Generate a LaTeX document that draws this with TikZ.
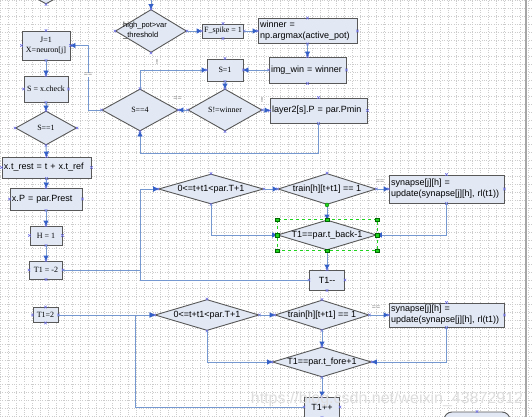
\documentclass[tikz,border=0pt]{standalone}
\usepackage{fontspec}
\setmainfont{Liberation Serif}
\setsansfont{Liberation Sans}
\usepackage{tikz}
\usetikzlibrary{positioning, arrows.meta, shapes.geometric}
\usepackage{xcolor}

\definecolor{boxfill}{RGB}{226,233,245}
\definecolor{boxline}{RGB}{88,88,88}
\definecolor{conn}{RGB}{118,152,208}
\definecolor{tipblue}{RGB}{52,96,200}
\definecolor{pinblue}{RGB}{110,110,230}
\definecolor{selgreen}{RGB}{30,210,30}

\newcommand{\sansnine}{\sffamily\fontsize{9}{11}\selectfont}
\newcommand{\serifeight}{\rmfamily\fontsize{8}{10}\selectfont}

\begin{document}
\begin{tikzpicture}[x=1pt, y=-1pt,
      box/.style={draw=boxline, fill=boxfill, line width=0.9pt, inner sep=2pt,
          font=\sansnine, align=left},
      sbox/.style={box, font=\serifeight, align=center},
      dia/.style={diamond, draw=boxline, fill=boxfill, line width=0.9pt,
          inner sep=0pt},
      dtext/.style={font=\sansnine, align=center, inner sep=0pt},
      dsans/.style={label={[dtext]center:{#1}}},
      dserif/.style={label={[dtext, font=\serifeight]center:{#1}}},
      arr/.style={draw=conn, line width=0.9pt,
          -{Triangle[length=5pt, width=5pt, color=tipblue]}},
      lbl/.style={font=\sffamily\fontsize{7}{7}\selectfont, text=black!75,
          inner sep=0.5pt},
      pin/.style={draw=pinblue, line width=0.5pt},
      gridline/.style={draw=gray!40, dotted, line width=0.35pt, step=8pt},
      sel/.style={draw=selgreen, dashed, line width=0.6pt},
      handle/.style={fill=selgreen, draw=green!40!black, line width=0.3pt},
      wm/.style={font=\sffamily\fontsize{16}{16}\selectfont, text=black!13},
    ]

    \useasboundingbox (0,0) rectangle (532,417);
    \clip (0,0) rectangle (532,417);
    \fill[white] (0,0) rectangle (532,417);
    \draw[gridline] (0,0) grid (532,417);

    %% --- top row ---
    \node[dia, minimum width=61pt, minimum height=34pt] (prev) at (46,-13) {};
    \node[dia, minimum width=71pt, minimum height=43pt,
      label={[dtext, font=\sffamily\fontsize{7.5}{10}\selectfont, align=left,
          xshift=-6pt]center:{high\_pot>var\\\_threshold}}] (hipot) at (151,31) {};
    \node[sbox, minimum width=40pt, minimum height=14pt] (fspike) at (223,31) {F\_spike = 1};
    \node[box, text width=95pt, minimum height=25pt] (winner) at (307.5,31)
    {winner =\\np.argmax(active\_pot)};
    \node[box, text width=73pt, minimum height=26pt] (imgwin) at (307.5,70) {img\_win = winner};
    \node[sbox, minimum width=36pt, minimum height=22pt] (s1) at (225,70) {S=1};
    \node[dia, minimum width=74pt, minimum height=42pt, dserif={S!=winner}] (swin) at (225,110) {};
    \node[box, text width=93pt, minimum height=25pt] (layer) at (318.5,110.5) {layer2[s].P = par.Pmin};
    \node[dia, minimum width=76pt, minimum height=42pt, dserif={S==4}] (s4) at (140,110) {};

    %% --- left column ---
    \node[sbox, minimum width=48pt, minimum height=29pt] (j1) at (46,45.5) {J=1\\X=neuron[j]};
    \node[sbox, minimum width=44pt, minimum height=26pt] (sx) at (46,89) {S = x.check};
    \node[dia, minimum width=61pt, minimum height=34pt, dserif={S==1}] (schk) at (46,128) {};
    \node[box, text width=85pt, minimum height=21pt] (trest) at (46.5,167.5) {x.t\_rest = t + x.t\_ref};
    \node[box, text width=68pt, minimum height=22pt] (xp) at (46,199) {x.P = par.Prest};
    \node[sbox, minimum width=32pt, minimum height=19pt] (h1) at (46,235.5) {H = 1};
    \node[sbox, minimum width=33pt, minimum height=18pt] (t1a) at (46,270) {T1 = -2};
    \node[sbox, minimum width=25pt, minimum height=15pt] (t1b) at (45.5,315) {T1=2};

    %% --- back window ---
    \node[dia, minimum width=105pt, minimum height=30pt, dsans={0<=t+t1<par.T+1}] (dA) at (211,189) {};
    \node[dia, minimum width=98pt, minimum height=31pt, dsans={train[h][t+t1] == 1}] (dB) at (327,189) {};
    \node[box, text width=111pt, minimum height=28pt] (syn1) at (446.5,189)
    {synapse[j][h] =\\update(synapse[j][h], rl(t1))};
    \node[dia, minimum width=99pt, minimum height=30pt, dsans={T1==par.t\_back-1}] (dC) at (327,235) {};
    \node[box, align=center, minimum width=35pt, minimum height=20pt] (tdec) at (327,280) {T1{-}{-}};

    %% --- fore window ---
    \node[dia, minimum width=104pt, minimum height=31pt, dsans={0<=t+t1<par.T+1}] (dD) at (207,315) {};
    \node[dia, minimum width=94pt, minimum height=30pt, dsans={train[h][t+t1] == 1}] (dE) at (322,315) {};
    \node[box, text width=111pt, minimum height=24pt] (syn2) at (446.5,315)
    {synapse[j][h] =\\update(synapse[j][h], rl(t1))};
    \node[dia, minimum width=99pt, minimum height=30pt, dsans={T1==par.t\_fore+1}] (dF) at (322,362) {};
    \node[box, align=center, minimum width=35pt, minimum height=20pt] (tinc) at (322,407) {T1++};
    \node[box, rounded corners=8pt, minimum width=66pt, minimum height=30pt] (rbox) at (477,427) {};

    %% connection points
    \foreach \n in {prev, hipot, fspike, winner, imgwin, s1, swin, layer, s4, j1, sx, schk,
        trest, xp, h1, t1a, t1b, dA, dB, syn1, dC, tdec, dD, dE, syn2, dF, tinc, rbox}
    \foreach \a in {north, south, east, west}
    \draw[pin] (\n.\a) +(-1.3,-1.3) -- +(1.3,1.3) +(-1.3,1.3) -- +(1.3,-1.3);

    \coordinate (hpin)  at (151,-2);
    \coordinate (jback) at (88,45.5);
    \coordinate (lback) at (140,153);
    \coordinate (aloop) at (140,189);
    \coordinate (dloop) at (135,315);

    %% --- connectors, top ---
    \draw[arr] (hpin) -- (hipot.north);
    \draw[arr] (hipot.east) -- (fspike.west);
    \draw[arr] (fspike.east) -- (winner.west);
    \draw[arr] (winner.south) -- (imgwin.north);
    \draw[arr] (imgwin.west) -- (s1.east);
    \draw[arr] (s1.south) -- (swin.north);
    \draw[arr] (swin.east) -- (layer.west);
    \draw[arr] (swin.west) -- (s4.east);
    \draw[arr] (s4.north) |- (s1.west);
    \draw[arr] (s4.west) -| (jback) -- (j1.east);
    \draw[arr] (layer.south) |- (lback) -- (s4.south);

    \node[lbl] (ne1) at (262,100) {!};
    \node[lbl, text=gray] (eq1) at (177.5,99) {==};
    \node[lbl] (ne2) at (157,62) {!};
    \node[lbl, fill=white, text=gray] (eq2) at (88,75) {==};

    %% --- connectors, left column ---
    \draw[arr] (j1.south) -- (sx.north);
    \draw[arr] (sx.south) -- (schk.north);
    \draw[arr] (schk.south) -- (trest.north);
    \draw[arr] (trest.south) -- (xp.north);
    \draw[arr] (xp.south) -- (h1.north);
    \draw[arr] (h1.south) -- (t1a.north);

    %% --- connectors, back window ---
    \draw[arr] (t1a.east) -| (aloop) -- (dA.west);
    \draw[arr] (tdec.west) -| (aloop) -- (dA.west);
    \draw[arr] (dA.east) -- (dB.west);
    \draw[arr] (dB.east) -- (syn1.west);
    \draw[arr] (syn1.south) |- (dC.east);
    \draw[arr] (dB.south) -- (dC.north);
    \draw[arr] (dA.south) |- (dC.west);
    \draw[arr] (dC.south) -- (tdec.north);
    \node[lbl, text=gray] (eq3) at (380,182) {==};

    %% --- connectors, fore window ---
    \draw[arr] (t1b.east) -- (dD.west);
    \draw[arr] (tinc.west) -| (dloop) -- (dD.west);
    \draw[arr] (dD.east) -- (dE.west);
    \draw[arr] (dE.east) -- (syn2.west);
    \draw[arr] (syn2.south) |- (dF.east);
    \draw[arr] (dE.south) -- (dF.north);
    \draw[arr] (dD.south) |- (dF.west);
    \draw[arr] (dF.south) -- (tinc.north);
    \node[lbl, text=gray] (eq4) at (376,308) {==};

    %% selection on T1==par.t_back-1
    \draw[sel] (dC.west |- dC.north) rectangle (dC.east |- dC.south);
    \foreach \p in {{dC.west |- dC.north}, {dC.east |- dC.north}, {dC.west |- dC.south},
        {dC.east |- dC.south}, dC.north, dC.south, dC.east, dC.west}
    \filldraw[handle] (\p) +(-1.8,-1.8) rectangle +(1.8,1.8);
    \filldraw[handle] (dB.south) circle (2pt);

    %% window edge and watermark
    \draw[gray!70, line width=1.5pt] (526,0) -- (526,417);
    \node[wm] (mark) at (387,399) {https://blog.csdn.net/weixin\_43872912};

  \end{tikzpicture}
\end{document}
